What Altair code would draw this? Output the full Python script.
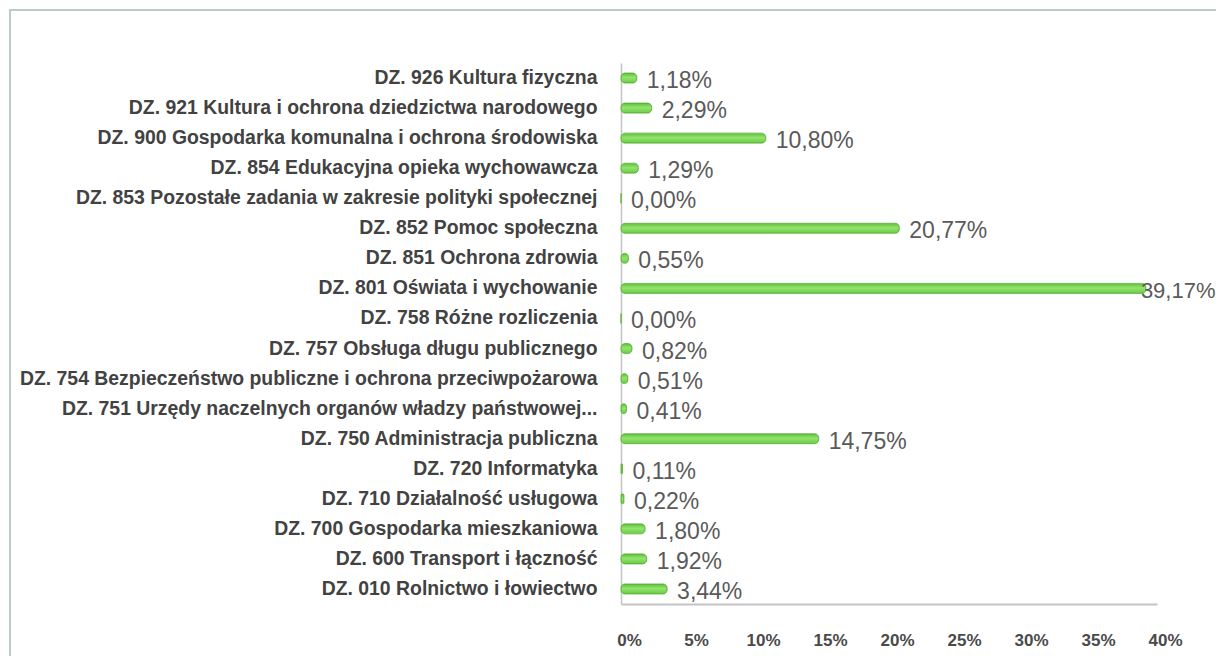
import altair as alt
import pandas as pd

categories = [
    "DZ. 926 Kultura fizyczna",
    "DZ. 921 Kultura i ochrona dziedzictwa narodowego",
    "DZ. 900 Gospodarka komunalna i ochrona środowiska",
    "DZ. 854 Edukacyjna opieka wychowawcza",
    "DZ. 853 Pozostałe zadania w zakresie polityki społecznej",
    "DZ. 852 Pomoc społeczna",
    "DZ. 851 Ochrona zdrowia",
    "DZ. 801 Oświata i wychowanie",
    "DZ. 758 Różne rozliczenia",
    "DZ. 757 Obsługa długu publicznego",
    "DZ. 754 Bezpieczeństwo publiczne i ochrona przeciwpożarowa",
    "DZ. 751 Urzędy naczelnych organów władzy państwowej...",
    "DZ. 750 Administracja publiczna",
    "DZ. 720 Informatyka",
    "DZ. 710 Działalność usługowa",
    "DZ. 700 Gospodarka mieszkaniowa",
    "DZ. 600 Transport i łączność",
    "DZ. 010 Rolnictwo i łowiectwo",
]
values = [1.18, 2.29, 10.80, 1.29, 0.00, 20.77, 0.55, 39.17, 0.00, 0.82,
          0.51, 0.41, 14.75, 0.11, 0.22, 1.80, 1.92, 3.44]
x_ticks = [0, 5, 10, 15, 20, 25, 30, 35, 40]

df = pd.DataFrame({"dzial": categories, "udzial": values})
df["etykieta"] = [f"{v:.2f}".replace(".", ",") + "%" for v in values]

W, H = 536, 541
FONT = "Liberation Sans"

y_enc = alt.Y(
    "dzial:N", sort=categories, title=None,
    scale=alt.Scale(paddingInner=0, paddingOuter=0),
    axis=alt.Axis(domain=True, domainColor="#c4c4c4", domainWidth=1.5,
                  ticks=False, grid=False, labelPadding=24,
                  labelFont=FONT, labelFontSize=19.4, labelFontWeight="bold",
                  labelColor="#424242", labelLimit=800),
)
x_enc = alt.X(
    "udzial:Q", title=None,
    scale=alt.Scale(domain=[0, 40], nice=False, zero=True),
    axis=alt.Axis(values=x_ticks, labelExpr="datum.value + '%'",
                  domainColor="#c4c4c4", domainWidth=2, ticks=False,
                  grid=False, labelPadding=28, labelOffset=8, labelFlush=False,
                  labelFont=FONT, labelFontSize=17, labelFontWeight="bold",
                  labelColor="#4a4a4a"),
)

gradient = alt.Gradient(
    gradient="linear",
    stops=[alt.GradientStop(color="#5cbf3a", offset=0),
           alt.GradientStop(color="#93e46e", offset=0.45),
           alt.GradientStop(color="#6acb45", offset=1)],
    x1=0, x2=0, y1=0, y2=1,
)

base = alt.Chart(df)

bars = base.mark_bar(size=10, cornerRadius=4, color=gradient,
                     stroke="#58b136", strokeWidth=0.8).encode(x=x_enc, y=y_enc)

label_enc = dict(
    x=alt.X("udzial:Q"),
    y=alt.Y("dzial:N", sort=categories),
    text="etykieta:N",
)
labels = base.transform_filter("datum.udzial < 30").mark_text(
    align="left", baseline="middle", dx=10, dy=3,
    font=FONT, fontSize=23, color="#5a5a5a").encode(**label_enc)

labels_long = base.transform_filter("datum.udzial >= 30").mark_text(
    align="left", baseline="middle", dx=-5, dy=3,
    font=FONT, fontSize=22, color="#5a5a5a").encode(**label_enc)

border = alt.Chart(pd.DataFrame({"r": [0]})).mark_rect(
    fill="transparent", stroke="#bccdc4", strokeWidth=2
).encode(x=alt.value(-611), x2=alt.value(800),
         y=alt.value(-53), y2=alt.value(800))

chart = alt.layer(border, bars, labels, labels_long).properties(
    width=W, height=H,
    autosize=alt.AutoSizeParams(type="none"),
    padding={"left": 613, "top": 55, "right": 59, "bottom": 52},
).configure_view(stroke="transparent")

chart.save("out.html", embed_options={"renderer": "svg", "actions": False})
